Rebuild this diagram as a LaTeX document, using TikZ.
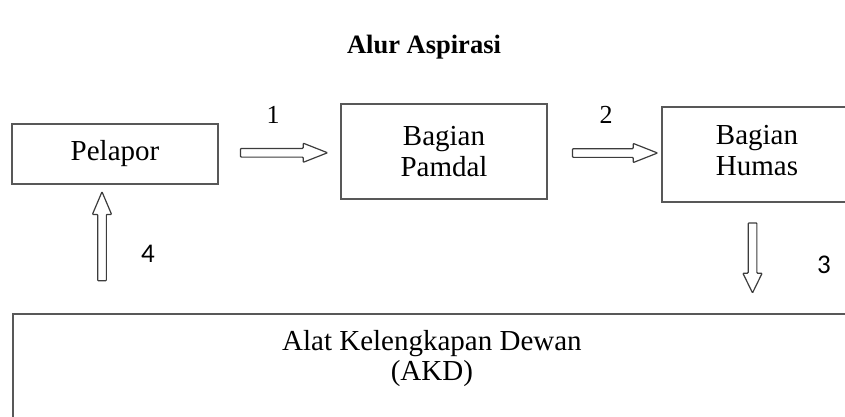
\documentclass[tikz,border=0pt]{standalone}
\usepackage{fontspec}
\setmainfont{Liberation Serif}
\newfontfamily\calib{Carlito}
\usetikzlibrary{shapes.arrows,calc}
\definecolor{boxgray}{RGB}{88,88,88}
\definecolor{arrgray}{RGB}{60,60,60}
\tikzset{
  stepbox/.style={draw=boxgray, line width=1.8pt, inner sep=0pt, align=center,
    font=\fontsize{29}{31}\selectfont},
  hollowarr/.style={single arrow, draw=arrgray, line width=1.2pt, inner sep=0pt,
    text height=7.5pt, text depth=0pt, minimum width=18pt,
    single arrow head extend=5.25pt, rounded corners=0.8pt},
  numlab/.style={inner sep=0pt, font=\fontsize{26}{26}\selectfont},
  numlabsans/.style={inner sep=0pt, font=\calib\fontsize{27}{27}\selectfont},
}
\begin{document}
\begin{tikzpicture}[x=1pt,y=-1pt]
\useasboundingbox (0,0) rectangle (845,417);
\clip (0,0) rectangle (845,417);
\node[inner sep=0pt, font=\bfseries\fontsize{26.5}{26.5}\selectfont] (title) at (424,47) {Alur Aspirasi};
\node[stepbox, minimum width=206pt, minimum height=60pt] (pel) at (115,154) {Pelapor};
\node[stepbox, minimum width=206pt, minimum height=95pt] (pam) at (444,151.5) {Bagian\\Pamdal};
\node[stepbox, minimum width=190pt, minimum height=95pt, text depth=8pt] (hum) at (757,154.5) {Bagian\\Humas};
\node[stepbox, minimum width=838pt, minimum height=130pt, anchor=north west, text depth=46pt,
  font=\fontsize{29}{30}\selectfont] (akd) at (12,313) {Alat Kelengkapan Dewan\\(AKD)};
\node[hollowarr, minimum height=87pt, single arrow tip angle=43] (a1) at ($($(pel.east)!.5!(pam.west)$ |- pel)+(-1,0)$) {};
\node[hollowarr, minimum height=85pt, single arrow tip angle=43] (a2) at ($($(pam.east)!.5!(hum.west)$)+(5,0)$) {};
\node[hollowarr, minimum height=70pt, single arrow tip angle=52, rotate=-90] (a3) at ($($(hum.south)!.5!(hum.south|-akd.north)$)+(-4.5,-4.5)$) {};
\node[hollowarr, minimum height=89pt, single arrow tip angle=46, rotate=90] (a4) at ($($(pel.south)!.5!(pel.south|-akd.north)$)+(-13,-7.5)$) {};
\node[numlab] (l1) at (273,115) {1};
\node[numlab] (l2) at (606,115) {2};
\node[numlabsans] (l3) at (824,265) {3};
\node[numlabsans] (l4) at (148,254) {4};
\end{tikzpicture}
\end{document}
